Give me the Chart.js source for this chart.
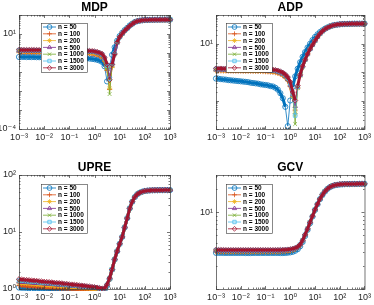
<!DOCTYPE html>
<html>
<head>
<meta charset="utf-8">
<script src="https://cdn.jsdelivr.net/npm/chart.js@4.4.1/dist/chart.umd.min.js"></script>
<style>
  body { margin: 0; background: #fff; }
  #wrap { position: relative; width: 374px; height: 305px; }
  #wrap canvas { position: absolute; left: 0; top: 0; }
</style>
</head>
<body>
<div id="wrap">
  <canvas id="c0" width="374" height="305"></canvas>
  <canvas id="c1" width="374" height="305"></canvas>
  <canvas id="c2" width="374" height="305"></canvas>
  <canvas id="c3" width="374" height="305"></canvas>
</div>
<script>
// regularization parameter grid (x)
const lambdas = [0.001,0.00126,0.00158,0.002,0.00251,0.00316,0.00398,0.00501,0.00631,0.00794,
  0.01,0.0126,0.0158,0.02,0.0251,0.0316,0.0398,0.0501,0.0631,0.0794,
  0.1,0.126,0.158,0.2,0.251,0.316,0.398,0.501,0.631,0.794,
  1,1.26,1.58,2,2.51,3.16,3.98,5.01,6.31,7.94,
  10,12.6,15.8,20,25.1,31.6,39.8,50.1,63.1,79.4,
  100,126,158,200,251,316,398,501,631,794,1000];

const legendLabels = ["n = 50", "n = 100", "n = 200", "n = 500", "n = 1000", "n = 1500", "n = 3000"];
const seriesColors = ["#0072BD", "#D95319", "#EDB120", "#7E2F8E", "#77AC30", "#4DBEEE", "#A2142F"];
const markerStyles = ["circle", "cross", "star", "triangle", "crossRot", "rect", "rectRot"];

const xTicks = [1e-3, 1e-2, 1e-1, 1, 10, 100, 1000];
const xTickLabels = ["10⁻³", "10⁻²", "10⁻¹", "10⁰", "10¹", "10²", "10³"];

// MDP
const mdpN50 = [0.62,0.62,0.62,0.61,0.61,0.61,0.61,0.6,0.6,0.6, 0.6,0.59,0.59,0.59,0.59,0.58,0.58,0.58,0.57,0.57, 0.57,0.56,0.56,0.55,0.55,0.54,0.53,0.52,0.51,0.49, 0.47,0.44,0.4,0.34,0.2,0.032,0.2,0.8,2.0,4.4, 7.8,11.5,16,21,28,35,42.5,47.2,50.6,52.6, 54.2,55.1,55.7,56,56.3,56.5,56.7,56.8,56.9,57,57];
const mdpN100 = [1.08,1.08,1.08,1.07,1.07,1.07,1.07,1.07,1.06,1.06, 1.06,1.06,1.06,1.05,1.05,1.05,1.05,1.04,1.04,1.04, 1.03,1.02,1.01,1.0,0.99,0.98,0.96,0.94,0.91,0.88, 0.84,0.78,0.7,0.58,0.36,0.12,0.012,0.18,0.8,3.4, 6.8,10.3,14.8,20,27,34,42,47,50.5,52.5, 54,55,55.6,56,56.3,56.5,56.7,56.8,56.9,57,57];
const mdpN200 = [1.21,1.21,1.21,1.2,1.2,1.2,1.2,1.2,1.19,1.19, 1.19,1.19,1.19,1.18,1.18,1.18,1.18,1.17,1.17,1.17, 1.16,1.15,1.14,1.13,1.12,1.11,1.09,1.07,1.04,1.01, 0.97,0.9,0.81,0.68,0.42,0.16,0.014,0.2,0.85,3.5, 6.9,10.4,14.9,20,27,34,42,47,50.5,52.5, 54,55,55.6,56,56.3,56.5,56.7,56.8,56.9,57,57];
const mdpN500 = [1.33,1.33,1.33,1.32,1.32,1.32,1.32,1.32,1.31,1.31, 1.31,1.31,1.31,1.3,1.3,1.3,1.3,1.29,1.29,1.29, 1.28,1.27,1.26,1.25,1.24,1.23,1.21,1.19,1.16,1.13, 1.09,1.01,0.92,0.78,0.5,0.24,0.06,0.28,0.95,3.6, 7,10.5,15,20,27,34,42,47,50.5,52.5, 54,55,55.6,56,56.3,56.5,56.7,56.8,56.9,57,57];
const mdpN1000 = [1.37,1.37,1.37,1.36,1.36,1.36,1.36,1.36,1.35,1.35, 1.35,1.35,1.35,1.34,1.34,1.34,1.34,1.33,1.33,1.33, 1.32,1.31,1.3,1.29,1.28,1.27,1.25,1.23,1.2,1.17, 1.13,1.05,0.95,0.8,0.48,0.15,0.0069,0.22,0.88,3.5, 6.9,10.4,14.9,20,27,34,42,47,50.5,52.5, 54,55,55.6,56,56.3,56.5,56.7,56.8,56.9,57,57];
const mdpN1500 = [1.41,1.41,1.41,1.4,1.4,1.4,1.4,1.4,1.39,1.39, 1.39,1.39,1.39,1.38,1.38,1.38,1.38,1.37,1.37,1.37, 1.36,1.35,1.34,1.33,1.32,1.31,1.29,1.27,1.24,1.21, 1.17,1.09,0.99,0.85,0.54,0.22,0.045,0.26,0.92,3.6, 7,10.5,15,20,27,34,42,47,50.5,52.5, 54,55,55.6,56,56.3,56.5,56.7,56.8,56.9,57,57];
const mdpN3000 = [1.46,1.46,1.46,1.45,1.45,1.45,1.45,1.45,1.44,1.44, 1.44,1.44,1.44,1.43,1.43,1.43,1.43,1.42,1.42,1.42, 1.41,1.4,1.39,1.38,1.37,1.36,1.34,1.32,1.29,1.26, 1.22,1.14,1.04,0.9,0.58,0.25,0.039,0.25,0.9,3.6, 7,10.5,15,20,27,34,42,47,50.5,52.5, 54,55,55.6,56,56.3,56.5,56.7,56.8,56.9,57,57];

// ADP
const adpN50 = [0.59,0.58,0.56,0.55,0.54,0.52,0.51,0.5,0.49,0.48, 0.47,0.46,0.45,0.44,0.42,0.41,0.4,0.39,0.37,0.36, 0.35,0.34,0.32,0.31,0.28,0.24,0.18,0.12,0.06,0.0126, 0.1,0.3,0.7,1.3,2.2,3.4,5.0,7.2,9.8,13.2, 17,21,25,29,33,36.5,39.8,42.6,44.6,46, 47,47.8,48.3,48.7,49,49.2,49.4,49.5,49.6,49.7,49.7];
const adpN100 = [1.1,1.1,1.1,1.09,1.09,1.09,1.09,1.08,1.08,1.08, 1.08,1.07,1.07,1.07,1.07,1.06,1.06,1.05,1.05,1.04, 1.03,1.02,1.0,0.98,0.95,0.9,0.84,0.75,0.63,0.5, 0.32,0.14,0.046,0.28,0.75,1.55,2.65,4.25,6.35,9, 12.5,17,22,27,32,36,39.5,42.5,44.5,46, 47,47.8,48.3,48.7,49,49.2,49.4,49.5,49.6,49.7,49.7];
const adpN200 = [1.15,1.15,1.15,1.14,1.14,1.14,1.14,1.13,1.13,1.13, 1.13,1.12,1.12,1.12,1.12,1.11,1.11,1.1,1.1,1.09, 1.08,1.07,1.05,1.03,1.0,0.95,0.88,0.78,0.66,0.52, 0.33,0.14,0.035,0.27,0.75,1.55,2.65,4.25,6.35,9, 12.5,17,22,27,32,36,39.5,42.5,44.5,46, 47,47.8,48.3,48.7,49,49.2,49.4,49.5,49.6,49.7,49.7];
const adpN500 = [1.2,1.2,1.2,1.19,1.19,1.19,1.19,1.18,1.18,1.18, 1.18,1.17,1.17,1.17,1.17,1.16,1.16,1.15,1.15,1.14, 1.13,1.12,1.1,1.08,1.05,1.0,0.93,0.83,0.7,0.55, 0.35,0.16,0.063,0.3,0.78,1.6,2.7,4.3,6.4,9, 12.5,17,22,27,32,36,39.5,42.5,44.5,46, 47,47.8,48.3,48.7,49,49.2,49.4,49.5,49.6,49.7,49.7];
const adpN1000 = [1.24,1.24,1.24,1.23,1.23,1.23,1.23,1.22,1.22,1.22, 1.22,1.21,1.21,1.21,1.21,1.2,1.2,1.19,1.19,1.18, 1.17,1.16,1.14,1.12,1.09,1.04,0.97,0.87,0.74,0.58, 0.37,0.15,0.015,0.28,0.76,1.6,2.7,4.3,6.4,9, 12.5,17,22,27,32,36,39.5,42.5,44.5,46, 47,47.8,48.3,48.7,49,49.2,49.4,49.5,49.6,49.7,49.7];
const adpN1500 = [1.28,1.28,1.28,1.27,1.27,1.27,1.27,1.26,1.26,1.26, 1.26,1.25,1.25,1.25,1.25,1.24,1.24,1.23,1.23,1.22, 1.21,1.2,1.18,1.16,1.13,1.08,1.01,0.91,0.78,0.62, 0.4,0.17,0.03,0.3,0.78,1.6,2.7,4.3,6.4,9, 12.5,17,22,27,32,36,39.5,42.5,44.5,46, 47,47.8,48.3,48.7,49,49.2,49.4,49.5,49.6,49.7,49.7];
const adpN3000 = [1.32,1.32,1.32,1.31,1.31,1.31,1.31,1.3,1.3,1.3, 1.3,1.29,1.29,1.29,1.29,1.28,1.28,1.27,1.27,1.26, 1.25,1.24,1.22,1.2,1.17,1.12,1.05,0.95,0.82,0.66, 0.45,0.2,0.1,0.33,0.8,1.6,2.7,4.3,6.4,9, 12.5,17,22,27,32,36,39.5,42.5,44.5,46, 47,47.8,48.3,48.7,49,49.2,49.4,49.5,49.6,49.7,49.7];

// UPRE
const upreN50 = [1.06,1.05,1.05,1.04,1.03,1.02,1.02,1.01,1.0,1.0, 0.99,0.99,0.98,0.98,0.97,0.97,0.96,0.96,0.95,0.95, 0.95,0.94,0.94,0.93,0.93,0.93,0.92,0.92,0.92,0.91, 0.91,0.91,0.91,0.92,0.96,1.14,1.5,2.2,3.3,4.6, 6.2,8.2,12,17.5,26,34,41,46,49,51, 52.5,53.2,53.6,53.9,54,54.1,54.2,54.2,54.3,54.3,54.3];
const upreN100 = [1.15,1.14,1.13,1.12,1.11,1.1,1.09,1.08,1.08,1.07, 1.06,1.05,1.05,1.04,1.03,1.03,1.02,1.01,1.01,1.0, 1.0,0.99,0.99,0.98,0.98,0.97,0.97,0.96,0.96,0.95, 0.95,0.94,0.94,0.94,0.97,1.15,1.5,2.2,3.3,4.6, 6.2,8.2,12,17.5,26,34,41,46,49,51, 52.5,53.2,53.6,53.9,54,54.1,54.2,54.2,54.3,54.3,54.3];
const upreN200 = [1.28,1.27,1.26,1.25,1.24,1.23,1.22,1.21,1.2,1.19, 1.18,1.17,1.16,1.15,1.14,1.13,1.12,1.12,1.11,1.1, 1.09,1.08,1.07,1.06,1.05,1.05,1.04,1.03,1.02,1.01, 1.0,0.99,0.98,0.97,0.99,1.16,1.51,2.2,3.3,4.6, 6.2,8.2,12,17.5,26,34,41,46,49,51, 52.5,53.2,53.6,53.9,54,54.1,54.2,54.2,54.3,54.3,54.3];
const upreN500 = [1.34,1.33,1.32,1.31,1.3,1.29,1.28,1.27,1.26,1.25, 1.24,1.23,1.22,1.21,1.2,1.19,1.18,1.17,1.16,1.15, 1.14,1.13,1.12,1.11,1.1,1.09,1.08,1.07,1.06,1.05, 1.04,1.03,1.01,0.99,1.0,1.17,1.52,2.2,3.3,4.6, 6.2,8.2,12,17.5,26,34,41,46,49,51, 52.5,53.2,53.6,53.9,54,54.1,54.2,54.2,54.3,54.3,54.3];
const upreN1000 = [1.38,1.37,1.36,1.35,1.34,1.33,1.32,1.31,1.3,1.29, 1.28,1.27,1.26,1.25,1.23,1.22,1.21,1.2,1.19,1.18, 1.17,1.16,1.15,1.14,1.13,1.12,1.11,1.09,1.08,1.07, 1.06,1.04,1.02,1.0,1.01,1.18,1.53,2.2,3.3,4.6, 6.2,8.2,12,17.5,26,34,41,46,49,51, 52.5,53.2,53.6,53.9,54,54.1,54.2,54.2,54.3,54.3,54.3];
const upreN1500 = [1.42,1.41,1.4,1.38,1.37,1.36,1.35,1.34,1.32,1.31, 1.3,1.29,1.28,1.27,1.25,1.24,1.23,1.22,1.21,1.2, 1.18,1.17,1.16,1.15,1.14,1.13,1.12,1.1,1.09,1.08, 1.07,1.05,1.03,1.01,1.02,1.19,1.54,2.2,3.3,4.6, 6.2,8.2,12,17.5,26,34,41,46,49,51, 52.5,53.2,53.6,53.9,54,54.1,54.2,54.2,54.3,54.3,54.3];
const upreN3000 = [1.48,1.47,1.45,1.44,1.43,1.41,1.4,1.39,1.37,1.36, 1.34,1.33,1.32,1.31,1.29,1.28,1.27,1.26,1.24,1.23, 1.21,1.2,1.19,1.18,1.16,1.15,1.14,1.12,1.11,1.09, 1.08,1.06,1.04,1.02,1.03,1.2,1.55,2.2,3.3,4.6, 6.2,8.2,12,17.5,26,34,41,46,49,51, 52.5,53.2,53.6,53.9,54,54.1,54.2,54.2,54.3,54.3,54.3];

// GCV
const gcvN50 = [2.96,2.96,2.96,2.95,2.95,2.95,2.95,2.95,2.95,2.95, 2.95,2.95,2.94,2.94,2.94,2.95,2.95,2.95,2.95,2.95, 2.95,2.95,2.95,2.95,2.95,2.95,2.94,2.94,2.95,2.97, 3.0,3.05,3.15,3.3,3.6,4.1,4.9,5.9,7.2,8.8, 10.7,12.7,14.8,16.8,18.6,20.1,21.2,22,22.5,22.8, 23,23.1,23.2,23.3,23.3,23.4,23.4,23.4,23.5,23.5,23.5];
const gcvN100 = [3.06,3.06,3.06,3.05,3.05,3.05,3.05,3.05,3.05,3.05, 3.05,3.05,3.05,3.05,3.05,3.05,3.05,3.05,3.05,3.05, 3.05,3.05,3.05,3.05,3.05,3.05,3.06,3.07,3.08,3.1, 3.14,3.2,3.3,3.45,3.72,4.25,5.05,6.05,7.35,8.9, 10.8,12.8,14.9,16.9,18.7,20.2,21.3,22.1,22.6,22.9, 23.1,23.2,23.3,23.3,23.4,23.4,23.4,23.5,23.5,23.5,23.5];
const gcvN200 = [3.11,3.11,3.11,3.1,3.1,3.1,3.1,3.1,3.1,3.1, 3.1,3.1,3.1,3.1,3.1,3.1,3.1,3.1,3.1,3.1, 3.1,3.1,3.1,3.1,3.1,3.1,3.11,3.12,3.13,3.15, 3.19,3.25,3.34,3.48,3.75,4.27,5.07,6.07,7.37,8.9, 10.8,12.8,14.9,16.9,18.7,20.2,21.3,22.1,22.6,22.9, 23.1,23.2,23.3,23.3,23.4,23.4,23.4,23.5,23.5,23.5,23.5];
const gcvN500 = [3.15,3.15,3.15,3.14,3.14,3.14,3.14,3.14,3.14,3.14, 3.14,3.14,3.14,3.14,3.14,3.14,3.14,3.14,3.14,3.14, 3.14,3.14,3.14,3.14,3.14,3.14,3.15,3.16,3.17,3.19, 3.23,3.28,3.37,3.5,3.77,4.28,5.08,6.08,7.38,8.9, 10.8,12.8,14.9,16.9,18.7,20.2,21.3,22.1,22.6,22.9, 23.1,23.2,23.3,23.3,23.4,23.4,23.4,23.5,23.5,23.5,23.5];
const gcvN1000 = [3.18,3.18,3.18,3.17,3.17,3.17,3.17,3.17,3.17,3.17, 3.17,3.17,3.17,3.17,3.17,3.17,3.17,3.17,3.17,3.17, 3.17,3.17,3.17,3.17,3.17,3.18,3.18,3.19,3.2,3.22, 3.26,3.31,3.39,3.52,3.78,4.29,5.09,6.09,7.39,8.9, 10.8,12.8,14.9,16.9,18.7,20.2,21.3,22.1,22.6,22.9, 23.1,23.2,23.3,23.3,23.4,23.4,23.4,23.5,23.5,23.5,23.5];
const gcvN1500 = [3.21,3.21,3.21,3.2,3.2,3.2,3.2,3.2,3.2,3.2, 3.2,3.2,3.2,3.2,3.2,3.2,3.2,3.2,3.2,3.2, 3.2,3.2,3.2,3.2,3.2,3.21,3.21,3.22,3.23,3.25, 3.28,3.32,3.4,3.53,3.79,4.3,5.1,6.1,7.4,8.9, 10.8,12.8,14.9,16.9,18.7,20.2,21.3,22.1,22.6,22.9, 23.1,23.2,23.3,23.3,23.4,23.4,23.4,23.5,23.5,23.5,23.5];
const gcvN3000 = [3.23,3.23,3.23,3.23,3.22,3.22,3.22,3.22,3.22,3.22, 3.22,3.22,3.22,3.22,3.22,3.22,3.22,3.22,3.22,3.22, 3.22,3.22,3.22,3.22,3.22,3.23,3.23,3.24,3.25,3.27, 3.3,3.34,3.42,3.55,3.8,4.3,5.1,6.1,7.4,8.9, 10.8,12.8,14.9,16.9,18.7,20.2,21.3,22.1,22.6,22.9, 23.1,23.2,23.3,23.3,23.4,23.4,23.4,23.5,23.5,23.5,23.5];

// layout of the four subplots: frame = [left, top, right, bottom] in page pixels
const panels = [
  { id: "c0", title: "MDP", frame: [19, 15, 170, 129], legendAt: [41, 23],
    yMin: 1e-4, yMax: 1e2, yTicks: [1e-4, 1e1], yLabels: ["10⁻⁴", "10¹"],
    series: [mdpN50, mdpN100, mdpN200, mdpN500, mdpN1000, mdpN1500, mdpN3000] },
  { id: "c1", title: "ADP", frame: [216, 15, 368, 129], legendAt: [226, 23],
    yMin: 1e-2, yMax: 1e2, yTicks: [1e1], yLabels: ["10¹"],
    series: [adpN50, adpN100, adpN200, adpN500, adpN1000, adpN1500, adpN3000] },
  { id: "c2", title: "UPRE", frame: [19, 175, 170, 289], legendAt: [41, 184],
    yMin: 1, yMax: 100, yTicks: [1, 10, 100], yLabels: ["10⁰", "10¹", "10²"],
    series: [upreN50, upreN100, upreN200, upreN500, upreN1000, upreN1500, upreN3000] },
  { id: "c3", title: "GCV", frame: [216, 175, 368, 289], legendAt: [226, 184],
    yMin: 1, yMax: 30.6, yTicks: [10], yLabels: ["10¹"],
    series: [gcvN50, gcvN100, gcvN200, gcvN500, gcvN1000, gcvN1500, gcvN3000] }
];

Chart.defaults.font.family = '"Liberation Sans", Arial, "DejaVu Sans", sans-serif';
Chart.defaults.font.size = 9;
Chart.defaults.color = "#262626";

function drawMarker(ctx, style, x, y, r) {
  if (Chart.helpers && Chart.helpers.drawPoint) {
    Chart.helpers.drawPoint(ctx, { pointStyle: style, radius: r, rotation: 0, borderWidth: ctx.lineWidth }, x, y);
    return;
  }
  ctx.beginPath();
  ctx.arc(x, y, r, 0, Math.PI * 2);
  ctx.stroke();
}

// box, inward ticks, title and legend like the original figure
function framePlugin(p) {
  return {
    id: "frame" + p.id,
    afterDraw(chart) {
      const { ctx, chartArea: a, scales } = chart;
      const xs = scales.x, ys = scales.y;
      ctx.save();
      ctx.strokeStyle = "#3a3a3a";
      ctx.lineWidth = 0.7;
      ctx.strokeRect(a.left + 0.5, a.top + 0.5, a.right - a.left, a.bottom - a.top);

      ctx.beginPath();
      for (let d = -3; d <= 3; d++) {
        for (let k = 1; k <= 9; k++) {
          const v = k * Math.pow(10, d);
          if (v > 1000.001) break;
          const px = Math.round(xs.getPixelForValue(v)) + 0.5;
          const len = k === 1 ? 3 : 1.5;
          ctx.moveTo(px, a.bottom); ctx.lineTo(px, a.bottom - len);
          ctx.moveTo(px, a.top); ctx.lineTo(px, a.top + len);
        }
      }
      const d0 = Math.floor(Math.log10(p.yMin)), d1 = Math.ceil(Math.log10(p.yMax));
      for (let d = d0; d <= d1; d++) {
        for (let k = 1; k <= 9; k++) {
          const v = k * Math.pow(10, d);
          if (v < p.yMin * 0.999 || v > p.yMax * 1.001) continue;
          const py = Math.round(ys.getPixelForValue(v)) + 0.5;
          const len = k === 1 ? 3 : 1.5;
          ctx.moveTo(a.left, py); ctx.lineTo(a.left + len, py);
          ctx.moveTo(a.right, py); ctx.lineTo(a.right - len, py);
        }
      }
      ctx.stroke();

      // title
      ctx.fillStyle = "#000";
      ctx.font = 'bold 12px "Liberation Sans", Arial, sans-serif';
      ctx.textAlign = "center";
      ctx.textBaseline = "alphabetic";
      ctx.fillText(p.title, (a.left + a.right) / 2, a.top - 4);

      // legend
      const [lx, ly] = p.legendAt;
      const lw = 46, lh = 49;
      ctx.fillStyle = "#fff";
      ctx.fillRect(lx, ly, lw, lh);
      ctx.strokeStyle = "#3a3a3a";
      ctx.lineWidth = 0.6;
      ctx.strokeRect(lx + 0.5, ly + 0.5, lw, lh);
      ctx.font = 'bold 6.5px "Liberation Sans", Arial, sans-serif';
      ctx.textAlign = "left";
      ctx.textBaseline = "middle";
      legendLabels.forEach((lab, i) => {
        const cy = ly + 4 + i * 6.8;
        ctx.strokeStyle = seriesColors[i];
        ctx.lineWidth = 0.8;
        ctx.beginPath();
        ctx.moveTo(lx + 2, cy);
        ctx.lineTo(lx + 15, cy);
        ctx.stroke();
        ctx.fillStyle = "rgba(0,0,0,0)";
        drawMarker(ctx, markerStyles[i], lx + 8.5, cy, 2.4);
        ctx.fillStyle = "#000";
        ctx.fillText(lab, lx + 17, cy + 0.5);
      });
      ctx.restore();
    }
  };
}

panels.forEach((p) => {
  const [fl, ft, fr, fb] = p.frame;
  new Chart(document.getElementById(p.id), {
    type: "line",
    data: {
      datasets: p.series.map((vals, i) => ({
        label: legendLabels[i],
        data: lambdas.map((x, k) => ({ x: x, y: vals[k] })),
        borderColor: seriesColors[i],
        pointBorderColor: seriesColors[i],
        pointBackgroundColor: "rgba(0,0,0,0)",
        pointStyle: markerStyles[i],
        pointRadius: 2.6,
        pointBorderWidth: 0.8,
        borderWidth: 3,
        // long jumps (the sharp minima) are thin lines, dense parts look like a ribbon
        segment: { borderWidth: (c) => (Math.abs(c.p1.y - c.p0.y) > 11 ? 0.8 : 3) },
        order: 6 - i, // n = 3000 drawn on top
        clip: { left: 4, top: 4, right: 4, bottom: 2 }
      }))
    },
    options: {
      responsive: false,
      animation: false,
      devicePixelRatio: 1,
      layout: { padding: { left: fl - 19, top: ft, right: 374 - fr, bottom: 305 - fb - 14 } },
      plugins: { legend: { display: false }, tooltip: { enabled: false }, title: { display: false } },
      scales: {
        x: {
          type: "logarithmic", min: 1e-3, max: 1e3,
          grid: { display: false, drawTicks: false }, border: { display: false },
          afterBuildTicks: (s) => { s.ticks = xTicks.map((v) => ({ value: v })); },
          afterFit: (s) => { s.height = 14; },
          ticks: { autoSkip: false, maxRotation: 0, padding: 3, callback: (v, i) => xTickLabels[i] }
        },
        y: {
          type: "logarithmic", min: p.yMin, max: p.yMax,
          grid: { display: false, drawTicks: false }, border: { display: false },
          afterBuildTicks: (s) => { s.ticks = p.yTicks.map((v) => ({ value: v })); },
          afterFit: (s) => { s.width = 19; },
          ticks: { autoSkip: false, padding: 3, callback: (v, i) => p.yLabels[i] }
        }
      }
    },
    plugins: [framePlugin(p)]
  });
});
</script>
</body>
</html>
